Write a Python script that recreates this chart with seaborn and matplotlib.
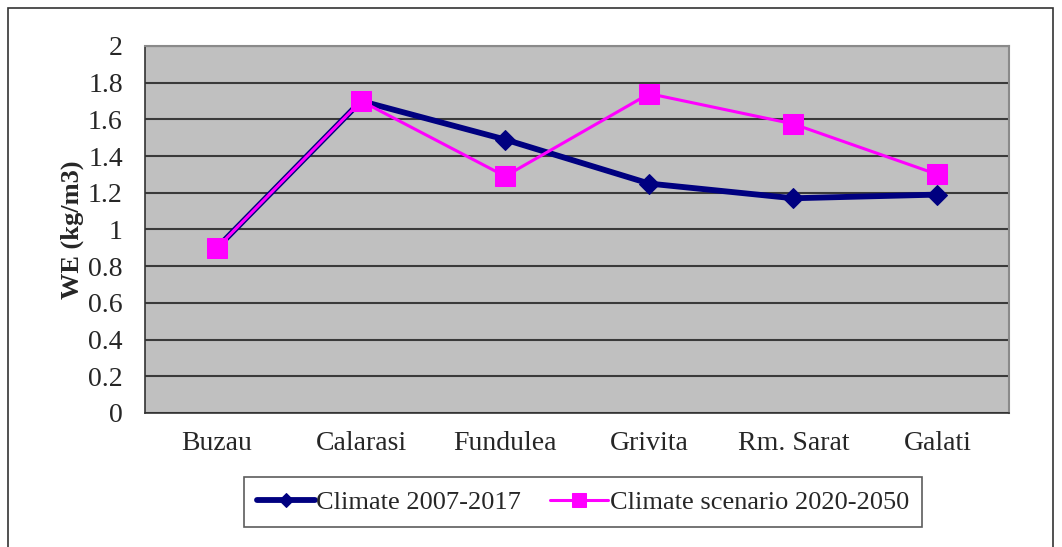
import numpy as np
import pandas as pd
import matplotlib.pyplot as plt
import seaborn as sns
from matplotlib.patches import Rectangle

stations = ['Buzau', 'Calarasi', 'Fundulea', 'Grivita', 'Rm. Sarat', 'Galati']
we_2007_2017 = [0.9, 1.7, 1.49, 1.25, 1.17, 1.19]
we_2020_2050 = [0.9, 1.7, 1.29, 1.74, 1.575, 1.30]
y_ticks = [0, 0.2, 0.4, 0.6, 0.8, 1, 1.2, 1.4, 1.6, 1.8, 2]
y_tick_labels = ['0', '0.2', '0.4', '0.6', '0.8', '1', '1.2', '1.4', '1.6', '1.8', '2']

sns.set_style('white')
plt.rcParams['font.family'] = ['Liberation Serif', 'DejaVu Serif']

fig = plt.figure(figsize=(10.62, 5.47), dpi=100)
ax = fig.add_axes([0.1365, 0.245, 0.814, 0.671])
ax.set_facecolor('#C0C0C0')

x = np.arange(len(stations))
sns.lineplot(x=x, y=we_2007_2017, ax=ax, color='#000080', lw=4.2,
             marker='D', markersize=10, markeredgecolor='#000080',
             label='Climate 2007-2017', sort=False, zorder=3)
sns.lineplot(x=x, y=we_2020_2050, ax=ax, color='#FF00FF', lw=2.2,
             marker='s', markersize=14, markeredgecolor='#FF00FF',
             label='Climate scenario 2020-2050', sort=False, zorder=4)

ax.set_xlim(-0.5, len(stations) - 0.5)
ax.set_ylim(0, 2)
ax.set_yticks(y_ticks)
ax.set_yticklabels(y_tick_labels, fontsize=20)
ax.set_xticks(x)
ax.set_xticklabels(stations, fontsize=20)
ax.set_xticks(np.arange(-0.5, len(stations)), minor=True)
ax.tick_params(axis='x', which='major', length=0, pad=13)
ax.tick_params(axis='x', which='minor', length=7, width=1.2, color='#333333', direction='out')
ax.tick_params(axis='y', which='major', length=7, width=1.2, color='#333333', direction='out', pad=9)
ax.yaxis.grid(True, color='#3a3a3a', lw=1.5)
ax.xaxis.grid(False)
ax.set_axisbelow(True)
ax.set_xlabel('')
ax.set_ylabel('WE (kg/m3)', fontsize=19, fontweight='bold', labelpad=3)

for side in ['top', 'right']:
    ax.spines[side].set_color('#8a8a8a')
    ax.spines[side].set_linewidth(1.5)
for side in ['left', 'bottom']:
    ax.spines[side].set_color('#333333')
    ax.spines[side].set_linewidth(1.2)

ax.get_legend().remove()
handles, labels = ax.get_legend_handles_labels()
leg = fig.legend(handles, labels, loc='center', bbox_to_anchor=(0.549, 0.082),
                 ncol=2, fontsize=19, frameon=True, fancybox=False,
                 edgecolor='#333333', handlelength=2.2, handletextpad=0.05,
                 columnspacing=1.1, borderpad=0.5, markerscale=0.75)
leg.get_frame().set_linewidth(1.2)

fig.patches.append(Rectangle((0.0075, -0.01), 0.984, 0.996, transform=fig.transFigure,
                             fill=False, edgecolor='#333333', lw=1.2))

fig.savefig('out.png', dpi=100, facecolor='white')
